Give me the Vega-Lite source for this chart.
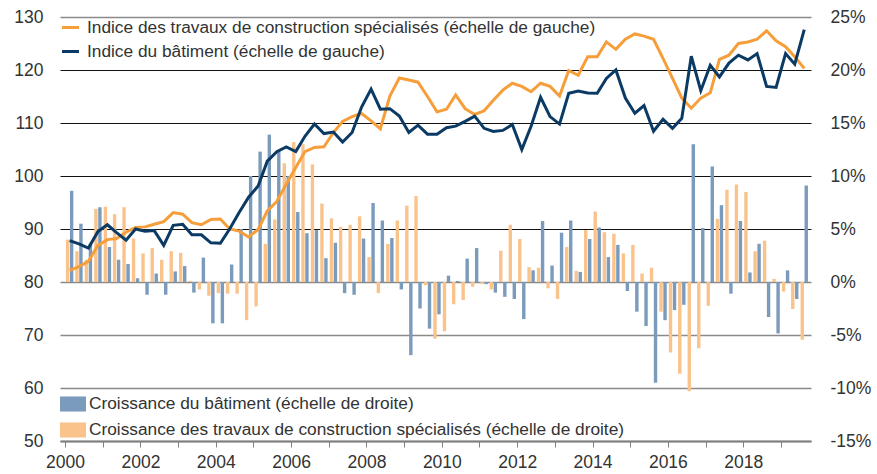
{
  "$schema": "https://vega.github.io/schema/vega-lite/v6.json",
  "width": 751,
  "height": 424,
  "autosize": {"type": "none"},
  "padding": {"left": 60, "top": 17, "right": 66, "bottom": 33},
  "config": {
    "font": "Liberation Sans",
    "view": {"stroke": null},
    "axis": {"labelFont": "Liberation Sans", "labelFontSize": 17.5, "labelColor": "#333333"},
    "legend": {"labelFont": "Liberation Sans", "labelFontSize": 17.3, "labelColor": "#333333", "labelLimit": 0}
  },
  "data": {
    "values": [
      {"date": "2000-02-15", "B": 87.8, "O": 82.2, "gb": 8.6, "go": 4.0},
      {"date": "2000-05-15", "B": 87.2, "O": 82.9, "gb": 5.5, "go": 2.9},
      {"date": "2000-08-15", "B": 86.4, "O": 83.9, "gb": 3.6, "go": 2.1},
      {"date": "2000-11-15", "B": 89.5, "O": 86.9, "gb": 7.05, "go": 6.9},
      {"date": "2001-02-15", "B": 90.8, "O": 88.0, "gb": 3.3, "go": 7.1},
      {"date": "2001-05-15", "B": 89.3, "O": 88.2, "gb": 2.1, "go": 6.4},
      {"date": "2001-08-15", "B": 87.9, "O": 89.4, "gb": 1.7, "go": 7.05},
      {"date": "2001-11-15", "B": 90.0, "O": 90.3, "gb": 0.35, "go": 4.1},
      {"date": "2002-02-15", "B": 89.6, "O": 90.4, "gb": -1.2, "go": 2.7},
      {"date": "2002-05-15", "B": 89.7, "O": 90.9, "gb": 0.8, "go": 3.2},
      {"date": "2002-08-15", "B": 86.9, "O": 91.4, "gb": -1.2, "go": 2.1},
      {"date": "2002-11-15", "B": 90.7, "O": 93.1, "gb": 1.0, "go": 2.9},
      {"date": "2003-02-15", "B": 90.9, "O": 92.8, "gb": 1.5, "go": 2.75},
      {"date": "2003-05-15", "B": 88.9, "O": 91.2, "gb": -1.0, "go": 0.1},
      {"date": "2003-08-15", "B": 88.9, "O": 90.8, "gb": 2.3, "go": -0.7},
      {"date": "2003-11-15", "B": 87.4, "O": 91.8, "gb": -3.9, "go": -1.3},
      {"date": "2004-02-15", "B": 87.3, "O": 91.9, "gb": -3.9, "go": -1.05},
      {"date": "2004-05-15", "B": 90.0, "O": 90.0, "gb": 1.65, "go": -1.1},
      {"date": "2004-08-15", "B": 93.1, "O": 89.6, "gb": 5.0, "go": -1.1},
      {"date": "2004-11-15", "B": 96.0, "O": 88.5, "gb": 10.0, "go": -3.6},
      {"date": "2005-02-15", "B": 98.1, "O": 89.9, "gb": 12.3, "go": -2.3},
      {"date": "2005-05-15", "B": 102.8, "O": 93.4, "gb": 13.9, "go": 3.6},
      {"date": "2005-08-15", "B": 104.6, "O": 95.2, "gb": 12.4, "go": 5.9},
      {"date": "2005-11-15", "B": 105.5, "O": 98.5, "gb": 10.0, "go": 11.2},
      {"date": "2006-02-15", "B": 104.6, "O": 101.6, "gb": 6.6, "go": 13.2},
      {"date": "2006-05-15", "B": 107.5, "O": 104.6, "gb": 4.6, "go": 13.0},
      {"date": "2006-08-15", "B": 109.8, "O": 105.4, "gb": 4.9, "go": 11.1},
      {"date": "2006-11-15", "B": 108.0, "O": 105.5, "gb": 2.25, "go": 7.4},
      {"date": "2007-02-15", "B": 108.3, "O": 108.2, "gb": 3.7, "go": 6.0},
      {"date": "2007-05-15", "B": 106.4, "O": 110.3, "gb": -1.05, "go": 5.2},
      {"date": "2007-08-15", "B": 108.2, "O": 111.2, "gb": -1.2, "go": 5.4},
      {"date": "2007-11-15", "B": 113.0, "O": 111.8, "gb": 4.1, "go": 6.2},
      {"date": "2008-02-15", "B": 116.4, "O": 110.4, "gb": 7.45, "go": 2.35},
      {"date": "2008-05-15", "B": 112.6, "O": 108.9, "gb": 5.8, "go": -1.05},
      {"date": "2008-08-15", "B": 112.7, "O": 115.1, "gb": 4.15, "go": 3.6},
      {"date": "2008-11-15", "B": 111.3, "O": 118.5, "gb": -0.7, "go": 5.8},
      {"date": "2009-02-15", "B": 108.2, "O": 118.1, "gb": -6.9, "go": 7.2},
      {"date": "2009-05-15", "B": 109.6, "O": 117.7, "gb": -2.5, "go": 8.1},
      {"date": "2009-08-15", "B": 107.9, "O": 115.0, "gb": -4.4, "go": -0.3},
      {"date": "2009-11-15", "B": 107.9, "O": 112.1, "gb": -3.05, "go": -5.35},
      {"date": "2010-02-15", "B": 109.1, "O": 112.6, "gb": 0.6, "go": -4.65},
      {"date": "2010-05-15", "B": 109.4, "O": 115.3, "gb": 0.1, "go": -2.1},
      {"date": "2010-08-15", "B": 110.3, "O": 112.7, "gb": 2.2, "go": -1.7},
      {"date": "2010-11-15", "B": 111.3, "O": 111.6, "gb": 3.2, "go": -0.45},
      {"date": "2011-02-15", "B": 109.0, "O": 112.3, "gb": -0.2, "go": -0.2},
      {"date": "2011-05-15", "B": 108.4, "O": 114.3, "gb": -1.0, "go": -0.7},
      {"date": "2011-08-15", "B": 108.6, "O": 116.2, "gb": -1.4, "go": 2.95},
      {"date": "2011-11-15", "B": 109.7, "O": 117.5, "gb": -1.6, "go": 5.4},
      {"date": "2012-02-15", "B": 105.0, "O": 116.9, "gb": -3.5, "go": 4.05},
      {"date": "2012-05-15", "B": 109.4, "O": 115.9, "gb": 1.1, "go": 1.4},
      {"date": "2012-08-15", "B": 114.85, "O": 117.5, "gb": 5.75, "go": 1.35},
      {"date": "2012-11-15", "B": 111.2, "O": 116.9, "gb": 1.55, "go": -0.6},
      {"date": "2013-02-15", "B": 109.8, "O": 115.1, "gb": 4.65, "go": -1.6},
      {"date": "2013-05-15", "B": 115.6, "O": 119.9, "gb": 5.8, "go": 3.3},
      {"date": "2013-08-15", "B": 116.05, "O": 119.0, "gb": 0.95, "go": 1.05},
      {"date": "2013-11-15", "B": 115.65, "O": 122.5, "gb": 4.05, "go": 4.9},
      {"date": "2014-02-15", "B": 115.6, "O": 122.5, "gb": 5.15, "go": 6.65},
      {"date": "2014-05-15", "B": 118.4, "O": 125.3, "gb": 2.35, "go": 4.7},
      {"date": "2014-08-15", "B": 120.0, "O": 123.9, "gb": 3.5, "go": 4.55},
      {"date": "2014-11-15", "B": 114.7, "O": 125.8, "gb": -0.85, "go": 2.7},
      {"date": "2015-02-15", "B": 111.85, "O": 126.8, "gb": -2.8, "go": 3.5},
      {"date": "2015-05-15", "B": 113.3, "O": 126.4, "gb": -4.15, "go": 0.8},
      {"date": "2015-08-15", "B": 108.45, "O": 125.8, "gb": -9.5, "go": 1.35},
      {"date": "2015-11-15", "B": 110.7, "O": 122.2, "gb": -3.6, "go": -2.8},
      {"date": "2016-02-15", "B": 109.0, "O": 118.4, "gb": -2.65, "go": -6.65},
      {"date": "2016-05-15", "B": 110.9, "O": 114.7, "gb": -2.15, "go": -8.65},
      {"date": "2016-08-15", "B": 122.6, "O": 112.8, "gb": 13.0, "go": -10.3},
      {"date": "2016-11-15", "B": 116.1, "O": 114.7, "gb": 5.1, "go": -6.25},
      {"date": "2017-02-15", "B": 120.9, "O": 115.7, "gb": 10.9, "go": -2.25},
      {"date": "2017-05-15", "B": 118.7, "O": 122.0, "gb": 7.25, "go": 5.95},
      {"date": "2017-08-15", "B": 121.3, "O": 122.8, "gb": -1.1, "go": 8.7},
      {"date": "2017-11-15", "B": 122.8, "O": 125.0, "gb": 5.75, "go": 9.2},
      {"date": "2018-02-15", "B": 121.9, "O": 125.3, "gb": 0.9, "go": 8.5},
      {"date": "2018-05-15", "B": 123.1, "O": 125.8, "gb": 3.6, "go": 2.9},
      {"date": "2018-08-15", "B": 116.9, "O": 127.4, "gb": -3.3, "go": 3.9},
      {"date": "2018-11-15", "B": 116.7, "O": 125.5, "gb": -4.85, "go": 0.3},
      {"date": "2019-02-15", "B": 123.1, "O": 124.4, "gb": 1.1, "go": -0.9},
      {"date": "2019-05-15", "B": 121.1, "O": 122.5, "gb": -1.6, "go": -2.55},
      {"date": "2019-08-15", "B": 127.6, "O": 120.3, "gb": 9.1, "go": -5.45}
    ]
  },
  "encoding": {
    "x": {
      "field": "date",
      "type": "temporal",
      "title": null,
      "scale": {"domain": ["2000-01-01", "2019-09-01"], "nice": false},
      "axis": {
        "values": [{"year": 2000}, {"year": 2001}, {"year": 2002}, {"year": 2003}, {"year": 2004}, {"year": 2005}, {"year": 2006}, {"year": 2007}, {"year": 2008}, {"year": 2009}, {"year": 2010}, {"year": 2011}, {"year": 2012}, {"year": 2013}, {"year": 2014}, {"year": 2015}, {"year": 2016}, {"year": 2017}, {"year": 2018}, {"year": 2019}],
        "labelExpr": "year(datum.value) % 2 == 0 ? timeFormat(datum.value, '%Y') : ''",
        "labelFlush": false,
        "labelBound": false,
        "labelOverlap": false,
        "grid": false,
        "domainColor": "#808080",
        "domainWidth": 2,
        "tickColor": "#808080",
        "tickWidth": 1,
        "tickSize": 6,
        "labelPadding": 6
      }
    }
  },
  "layer": [
    {
      "layer": [
        {
          "mark": {"type": "bar", "size": 3.4, "xOffset": 2},
          "encoding": {
            "y": {
              "field": "gb", "type": "quantitative", "title": null,
              "scale": {"domain": [-15, 25], "nice": false},
              "axis": {"orient": "right", "values": [-15, -10, -5, 0, 5, 10, 15, 20, 25], "labelExpr": "datum.value + '%'", "grid": false, "ticks": false, "domain": false, "labelPadding": 19}
            },
            "fill": {
              "datum": "Croissance du bâtiment (échelle de droite)",
              "scale": {"domain": ["Croissance du bâtiment (échelle de droite)", "Croissance des travaux de construction spécialisés (échelle de droite)"], "range": ["#7a9bbb", "#fac38c"]},
              "legend": {"title": null, "orient": "none", "legendX": 0, "legendY": 374, "symbolType": "M-1,-0.58H1V0.58H-1Z", "symbolSize": 676, "symbolStrokeWidth": 0, "rowPadding": 4, "labelOffset": 3}
            }
          }
        },
        {
          "mark": {"type": "bar", "size": 3.4, "xOffset": -2},
          "encoding": {
            "y": {
              "field": "go", "type": "quantitative", "title": null,
              "scale": {"domain": [-15, 25], "nice": false},
              "axis": {"orient": "right", "values": [-15, -10, -5, 0, 5, 10, 15, 20, 25], "labelExpr": "datum.value + '%'", "grid": false, "ticks": false, "domain": false, "labelPadding": 19}
            },
            "fill": {"datum": "Croissance des travaux de construction spécialisés (échelle de droite)"}
          }
        }
      ]
    },
    {
      "layer": [
        {
          "mark": {"type": "line", "strokeWidth": 3},
          "encoding": {
            "y": {
              "field": "O", "type": "quantitative", "title": null,
              "scale": {"domain": [50, 130], "nice": false, "zero": false},
              "axis": {
                "orient": "left", "values": [50, 60, 70, 80, 90, 100, 110, 120, 130],
                "grid": true, "ticks": false, "domain": false, "labelPadding": 17,
                "gridColor": {"condition": {"test": "datum.value >= 90 && datum.value <= 120", "value": "#111111"}, "value": "#8a8a8a"},
                "gridWidth": {"condition": {"test": "datum.value >= 90 && datum.value <= 120", "value": 1}, "value": 1.6}
              }
            },
            "stroke": {
              "datum": "Indice des travaux de construction spécialisés (échelle de gauche)",
              "scale": {"domain": ["Indice des travaux de construction spécialisés (échelle de gauche)", "Indice du bâtiment (échelle de gauche)"], "range": ["#f59e3a", "#0b3a65"]},
              "legend": {"title": null, "orient": "none", "legendX": 0, "legendY": 0, "symbolType": "stroke", "symbolSize": 290, "symbolStrokeWidth": 3, "rowPadding": 5, "labelOffset": 6}
            }
          }
        },
        {
          "mark": {"type": "line", "strokeWidth": 3},
          "encoding": {
            "y": {"field": "B", "type": "quantitative", "title": null, "scale": {"domain": [50, 130], "nice": false, "zero": false}},
            "stroke": {"datum": "Indice du bâtiment (échelle de gauche)"}
          }
        }
      ]
    }
  ],
  "resolve": {"scale": {"y": "independent"}}
}
